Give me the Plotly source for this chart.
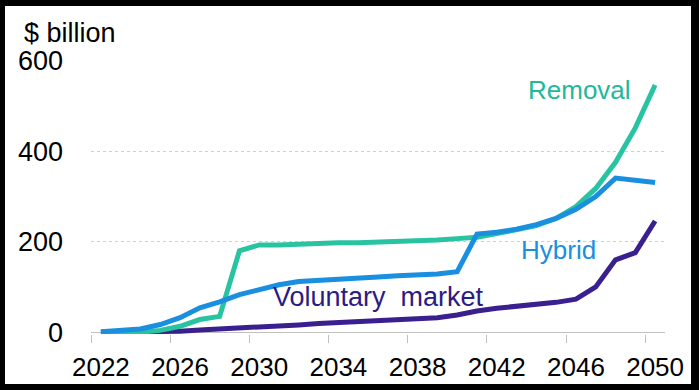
import plotly.graph_objects as go

years = list(range(2022, 2051))
removal = [0, 0, 0, 4, 13, 28, 35, 180, 193, 193, 195, 197, 198, 198, 199, 200, 201,
           204, 207, 210, 218, 226, 236, 252, 278, 318, 376, 452, 547]
hybrid = [1, 3, 7, 17, 32, 54, 67, 83, 94, 105, 112, 114, 118, 120, 122, 125, 127,
          129, 134, 217, 221, 228, 238, 252, 272, 300, 341, 337, 331]
voluntary = [0, 0, 0, 0, 2, 5, 7, 8, 11, 13, 16, 19, 21, 23, 25, 27, 29,
             32, 38, 47, 53, 57, 61, 66, 73, 100, 160, 176, 246]
tick_labels = [2022, 2026, 2030, 2034, 2038, 2042, 2046, 2050]
y_ticks = [0, 200, 400, 600]

C_REM = "#28C4A1"
C_HYB = "#1A8FE0"
C_VOL = "#3A1F8F"
FONT = "Liberation Sans, Arial, sans-serif"

fig = go.Figure()
for name, vals, col in [("Voluntary market", voluntary, C_VOL),
                        ("Removal", removal, C_REM),
                        ("Hybrid", hybrid, C_HYB)]:
    fig.add_trace(go.Scatter(x=years, y=vals, mode="lines", name=name,
                             line=dict(color=col, width=5)))

fig.update_layout(
    width=699, height=390,
    margin=dict(l=91, r=34, t=61, b=56),
    paper_bgcolor="white", plot_bgcolor="white",
    showlegend=False,
    font=dict(family=FONT, size=26, color="black"),
)
fig.update_xaxes(
    range=[2021.5, 2050.5], tickmode="array", tickvals=tick_labels,
    ticktext=[str(t) for t in tick_labels], ticks="", showgrid=False,
    showline=False, zeroline=False, ticklabelstandoff=15, automargin=False,
    tickfont=dict(size=26),
    minor=dict(tickmode="array", tickvals=[t - 0.5 for t in tick_labels[:-1]] + [2049.5],
               ticks="outside", ticklen=8, tickcolor="#c0c0c0", tickwidth=1, showgrid=False),
)
fig.update_yaxes(
    range=[-4, 600], tickmode="array", tickvals=y_ticks, ticks="",
    showgrid=True, gridcolor="#cfcfcf", griddash="dot", gridwidth=1,
    zeroline=True, zerolinecolor="#c0c0c0", zerolinewidth=1, automargin=False,
    showline=False, ticklabelstandoff=27, tickfont=dict(size=27),
)

fig.add_annotation(text="$ billion", xref="paper", yref="paper", x=-0.121, y=1.102,
                   xanchor="left", yanchor="middle", showarrow=False,
                   font=dict(size=27, color="black"))
fig.add_annotation(text="Removal", x=2046.2, y=536, showarrow=False,
                   xanchor="center", yanchor="middle", font=dict(size=26, color="#22B898"))
fig.add_annotation(text="Hybrid", x=2045.1, y=182, showarrow=False,
                   xanchor="center", yanchor="middle", font=dict(size=26, color="#1A8FDD"))
fig.add_annotation(text="Voluntary\u00a0\u00a0market", x=2036.0, y=78, showarrow=False,
                   xanchor="center", yanchor="middle", font=dict(size=27, color="#2B1B86"))

# black frame around the picture
for x0, x1, y0, y1 in [(0, 699, 0, 6), (0, 699, 384, 390), (0, 5, 0, 390), (691, 699, 0, 390)]:
    fig.add_shape(type="rect", xref="paper", yref="paper",
                  x0=(x0 - 91) / 574, x1=(x1 - 91) / 574,
                  y0=(334 - y1) / 273, y1=(334 - y0) / 273,
                  fillcolor="black", line=dict(width=0), layer="above")

fig.write_html("out.html", config={"displayModeBar": False},
               post_script="document.body.style.margin='0';document.body.style.padding='0';")
